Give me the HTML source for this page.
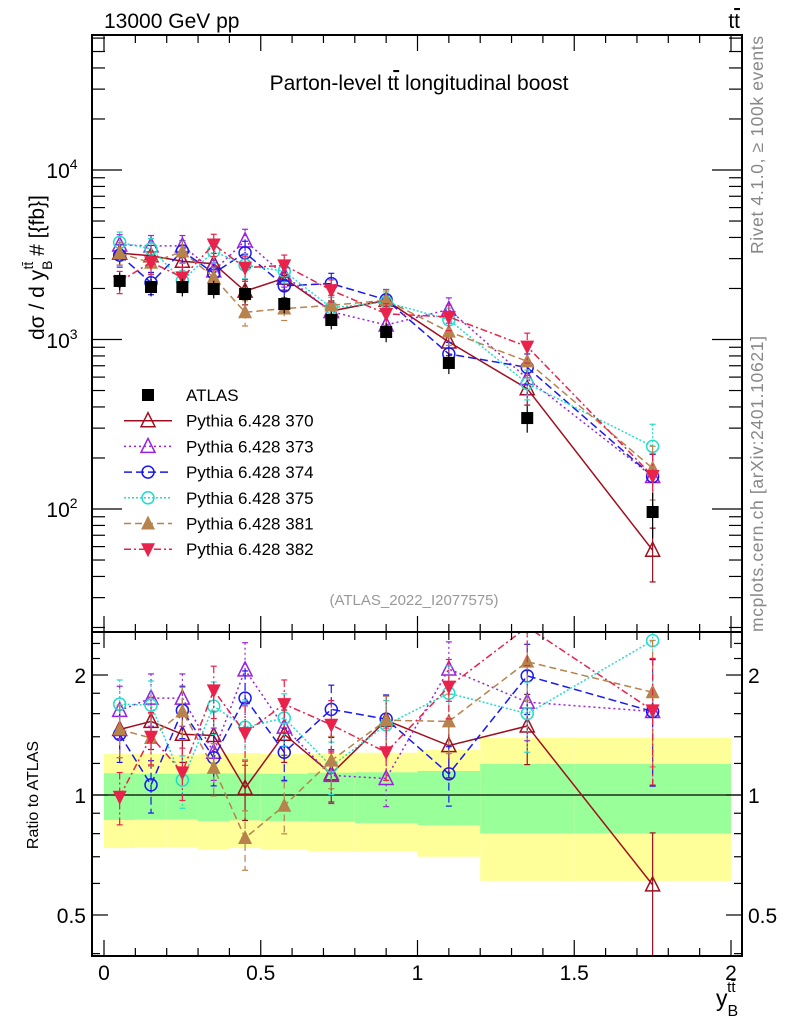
<!DOCTYPE html>
<html><head><meta charset="utf-8"><style>
body{margin:0;background:#fff;width:786px;height:1024px;overflow:hidden}
svg{font-family:"Liberation Sans",sans-serif}
</style></head><body>
<svg id="c" width="786" height="1024" xmlns="http://www.w3.org/2000/svg">
<defs><clipPath id="cm"><rect x="92" y="35" width="650" height="597"/></clipPath><clipPath id="cr"><rect x="92" y="632" width="650" height="324"/></clipPath></defs>
</svg>
<script>
const binCenters=[0.05,0.15,0.25,0.35,0.45,0.575,0.725,0.9,1.1,1.35,1.75];
const binEdges=[0,0.1,0.2,0.3,0.4,0.5,0.65,0.8,1.0,1.2,1.5,2.0];
const atlasValues=[2215,2040,2040,1985,1855,1620,1303,1107,727,344,96];
const atlasErrRel=[0.12,0.12,0.12,0.12,0.12,0.12,0.12,0.13,0.14,0.18,0.3];
const ratio370=[1.46,1.53,1.42,1.41,1.04,1.42,1.13,1.54,1.33,1.49,0.595];
const ratio373=[1.63,1.75,1.75,1.28,2.06,1.48,1.12,1.10,2.07,1.71,1.62];
const ratio374=[1.42,1.06,1.63,1.24,1.75,1.28,1.64,1.55,1.13,1.99,1.62];
const ratio375=[1.69,1.68,1.09,1.67,1.48,1.56,1.18,1.50,1.80,1.60,2.44];
const ratio381=[1.46,1.39,1.62,1.17,0.78,0.94,1.22,1.54,1.53,2.16,1.81];
const ratio382=[0.99,1.40,1.14,1.83,1.43,1.69,1.50,1.28,1.87,2.64,1.63];
const modelErrRel=[0.15,0.15,0.15,0.15,0.17,0.15,0.15,0.15,0.17,0.2,0.35];
const bandYellowHi=[1.267,1.267,1.262,1.27,1.275,1.267,1.27,1.277,1.297,1.39,1.39];
const bandYellowLo=[0.736,0.74,0.74,0.73,0.736,0.73,0.722,0.722,0.70,0.609,0.609];
const bandGreenHi=[1.134,1.13,1.13,1.132,1.132,1.13,1.137,1.14,1.149,1.196,1.196];
const bandGreenLo=[0.866,0.868,0.868,0.86,0.864,0.86,0.857,0.85,0.84,0.801,0.801];
const legendLabels=["ATLAS","Pythia 6.428 370","Pythia 6.428 373","Pythia 6.428 374","Pythia 6.428 375","Pythia 6.428 381","Pythia 6.428 382"];
const xTicks=[0,0.5,1,1.5,2];
const ratioTicks=[0.5,1,2];

const NS="http://www.w3.org/2000/svg";
const svg=document.getElementById('c');
function el(t,a,p){const e=document.createElementNS(NS,t);for(const k in a)e.setAttribute(k,a[k]);(p||svg).appendChild(e);return e;}
const L=92,R=742,T=35,MB=632,RB=956;
const X=x=>104+x*313.5;
const Y=v=>509-(Math.log10(v)-2)*169.5;
const RY=r=>795-Math.log10(r)*398.6;
const gMainClip=el('g',{'clip-path':'url(#cm)'});
const gRatioClip=el('g',{'clip-path':'url(#cr)'});

// ratio bands
const gBand=el('g',{},gRatioClip);


binCenters.forEach((c,i)=>{
  const x0=X(binEdges[i]),x1=X(binEdges[i+1]);
  el('rect',{x:x0,y:RY(bandYellowHi[i]),width:x1-x0,height:RY(bandYellowLo[i])-RY(bandYellowHi[i]),fill:'#ffff99'},gBand);
  el('rect',{x:x0,y:RY(bandGreenHi[i]),width:x1-x0,height:RY(bandGreenLo[i])-RY(bandGreenHi[i]),fill:'#99ff99'},gBand);
});
el('line',{x1:L,x2:R,y1:RY(1),y2:RY(1),stroke:'#000','stroke-width':1.2},gRatioClip);

// frames
const f1=el('rect',{x:L,y:T,width:R-L,height:MB-T,fill:'none',stroke:'#000','stroke-width':2});

const f2=el('rect',{x:L,y:MB,width:R-L,height:RB-MB,fill:'none',stroke:'#000','stroke-width':2});


// x ticks
for(let k=0;k<=20;k++){const x=X(k*0.1),big=k%5==0,len=big?16:8;
 for(const [yb,dir] of [[MB,-1],[T,1],[RB,-1],[MB,1]]) el('line',{x1:x,x2:x,y1:yb,y2:yb+dir*len,stroke:'#000','stroke-width':1.2});}
xTicks.forEach(t=>{const tx=el('text',{x:X(t),y:980,'font-size':21,'text-anchor':'middle'});tx.textContent=t;
 });
// main y ticks
for(let d=1;d<=4;d++)for(let m=1;m<10;m++){const v=m*Math.pow(10,d),y=Y(v);if(y<T||y>MB)continue;const len=m==1?30:13;
 el('line',{x1:L,x2:L+len,y1:y,y2:y,stroke:'#000','stroke-width':1.2});el('line',{x1:R,x2:R-len,y1:y,y2:y,stroke:'#000','stroke-width':1.2});}
[[2,509],[3,340],[4,170]].forEach(([p,y])=>{const t=el('text',{x:62,y:y+8,'font-size':21,'text-anchor':'middle'});
 t.innerHTML='10<tspan dy="-9" font-size="14">'+p+'</tspan>';});
// ratio y ticks
for(let m=4;m<=25;m++){const r=m/10;if(r>2.56)continue;const y=RY(r);const len=(r==0.5||r==1||r==2)?16:8;
 if(m>10&&m%2==1)continue;
 el('line',{x1:L,x2:L+len,y1:y,y2:y,stroke:'#000','stroke-width':1.2});el('line',{x1:R,x2:R-len,y1:y,y2:y,stroke:'#000','stroke-width':1.2});}
ratioTicks.forEach(r=>{for(const [x,a] of [[86,'end'],[748,'start']]){const t=el('text',{x:x,y:RY(r)+8,'font-size':21,'text-anchor':a});t.textContent=r;
 }});

// markers
function marker(kind,x,y,col,g){
 const s=7;
 if(kind=='sq')el('rect',{x:x-6,y:y-6,width:12,height:12,fill:'#000'},g);
 else if(kind=='otri')el('polygon',{points:`${x},${y-s-1} ${x-s},${y+s-1} ${x+s},${y+s-1}`,fill:'none',stroke:col,'stroke-width':1.5},g);
 else if(kind=='tri')el('polygon',{points:`${x},${y-s-1} ${x-s},${y+s-1} ${x+s},${y+s-1}`,fill:col},g);
 else if(kind=='dtri')el('polygon',{points:`${x},${y+s+1} ${x-s},${y-s+1} ${x+s},${y-s+1}`,fill:col},g);
 else if(kind=='circ')el('circle',{cx:x,cy:y,r:6,fill:'none',stroke:col,'stroke-width':1.5},g);
}
const series=[
 ['pythia-370',ratio370,'#a00e1e','otri',''],
 ['pythia-373',ratio373,'#9a22dd','otri','2,3'],
 ['pythia-374',ratio374,'#1a1aee','circ','8,4'],
 ['pythia-375',ratio375,'#22ddcc','circ','2,2'],
 ['pythia-381',ratio381,'#b8824d','tri','7,4'],
 ['pythia-382',ratio382,'#e8224a','dtri','7,3,2,3']];
series.forEach(([name,rat,col,kind,dash])=>{
 for(const panel of ['main','ratio']){
  const g=el('g',{},panel=='main'?gMainClip:gRatioClip);
  
  
  const ys=rat.map((r,i)=>panel=='main'?Y(r*atlasValues[i]):RY(r));
  const pts=binCenters.map((c,i)=>X(c)+','+ys[i]).join(' ');
  el('polyline',{points:pts,fill:'none',stroke:col,'stroke-width':1.5,'stroke-dasharray':dash},g);
  binCenters.forEach((c,i)=>{const x=X(c),e=modelErrRel[i];
   const v=panel=='main'?rat[i]*atlasValues[i]:rat[i];const f=panel=='main'?Y:RY;
   const y1=f(v*(1+e)),y2=f(Math.max(v*(1-e),1e-3));
   el('line',{x1:x,x2:x,y1:y1,y2:y2,stroke:col,'stroke-width':1.2,'stroke-dasharray':dash},g);
   el('line',{x1:x-3,x2:x+3,y1:y1,y2:y1,stroke:col,'stroke-width':1.2},g);
   el('line',{x1:x-3,x2:x+3,y1:y2,y2:y2,stroke:col,'stroke-width':1.2},g);
   marker(kind,x,ys[i],col,g);});
 }
});
// ATLAS data
const ga=el('g',{},gMainClip);


binCenters.forEach((c,i)=>{const x=X(c),v=atlasValues[i],e=atlasErrRel[i];
 el('line',{x1:x,x2:x,y1:Y(v*(1+e)),y2:Y(v*(1-e)),stroke:'#000','stroke-width':1.2},ga);
 marker('sq',x,Y(v),'#000',ga);});

// legend
legendLabels.forEach((lab,i)=>{
 const y=395+i*25.7;const g=el('g',{});
 
 
 if(i==0)marker('sq',148,y,'#000',g);
 else{const s=series[i-1];el('line',{x1:124,x2:172,y1:y,y2:y,stroke:s[2],'stroke-width':1.5,'stroke-dasharray':s[4]},g);marker(s[3],148,y,s[2],g);}
 const t=el('text',{x:186,y:y+6,'font-size':17},g);t.textContent=lab;});

// texts
function txt(x,y,s,html,attrs,name){const t=el('text',Object.assign({x:x,y:y,'font-size':s},attrs||{}));t.innerHTML=html;
 return t;}
txt(104,28,21,'13000 GeV pp',{},'energy-label');
txt(740,28,21,'t<tspan text-decoration="overline">t</tspan>',{'text-anchor':'end'},'process-label');
txt(419,90,21,'Parton-level t<tspan text-decoration="overline">t</tspan> longitudinal boost',{'text-anchor':'middle'},'plot-title');
txt(414,605,15,'(ATLAS_2022_I2077575)',{'text-anchor':'middle',fill:'#999'},'analysis-id');
txt(0,0,21,'dσ / d y<tspan dy="8" font-size="14">B</tspan><tspan dx="-9" dy="-19" font-size="14">tt̄</tspan><tspan dy="11"> # [{fb}]</tspan>',{transform:'translate(44,340) rotate(-90)'},'y-axis-title');
txt(0,0,16,'Ratio to ATLAS',{transform:'translate(38,795) rotate(-90)','text-anchor':'middle'},'ratio-axis-title');
txt(0,0,17.5,'Rivet 4.1.0, ≥ 100k events',{transform:'translate(763,254) rotate(-90)',fill:'#888',textLength:218},'rivet-label');
txt(0,0,17.5,'mcplots.cern.ch [arXiv:2401.10621]',{transform:'translate(763,632) rotate(-90)',fill:'#888',textLength:296},'mcplots-label');
txt(716,1006,23,'y<tspan dy="10" font-size="16">B</tspan><tspan dx="-11" dy="-24" font-size="15">tt̄</tspan>',{},'x-axis-title');
</script>
</body></html>
